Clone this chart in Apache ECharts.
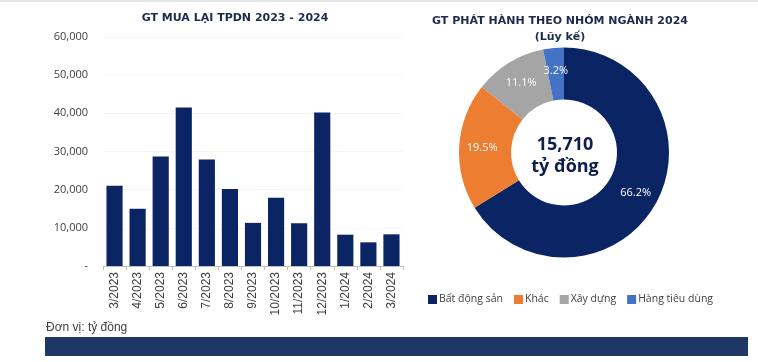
<!DOCTYPE html>
<html><head><meta charset="utf-8">
<script src="https://cdn.jsdelivr.net/npm/echarts@6/dist/echarts.min.js"></script>
<style>html,body{margin:0;padding:0;background:#fff}#c{width:758px;height:362px}</style>
</head><body><div id="c"></div>
<script>
const months = ['3/2023','4/2023','5/2023','6/2023','7/2023','8/2023','9/2023','10/2023','11/2023','12/2023','1/2024','2/2024','3/2024'];
const buyback = [21000,15000,28700,41500,27900,20200,11300,17900,11200,40200,8200,6200,8300];
const sectors = ['Bất động sản','Khác','Xây dựng','Hàng tiêu dùng'];
const sectorShare = [66.2,19.5,11.1,3.2];
const sectorColors = ['#0b2463','#ed7d31','#a5a5a5','#4472c4'];

const navy = '#0b2463';
const chart = echarts.init(document.getElementById('c'));
chart.setOption({
  animation:false,
  textStyle:{fontFamily:'"Open Sans", sans-serif'},
  title:[
    {text:'GT MUA LẠI TPDN 2023 - 2024', left:230, top:8, textAlign:'center',
     textStyle:{fontSize:11, fontWeight:'bold', color:'#1a2b4c', fontFamily:'"DejaVu Sans", sans-serif'}},
    {text:'GT PHÁT HÀNH THEO NHÓM NGÀNH 2024\n(Lũy kế)', left:555, top:8, textAlign:'center',
     textStyle:{fontSize:11, fontWeight:'bold', color:'#1a2b4c', lineHeight:16, fontFamily:'"DejaVu Sans", sans-serif'}}
  ],
  grid:{left:103, right:355, top:37, bottom:96},
  xAxis:{type:'category', data:months,
    axisLine:{lineStyle:{color:'#bfbfbf'}},
    axisTick:{show:true, alignWithLabel:false, length:4, lineStyle:{color:'#bfbfbf'}},
    axisLabel:{rotate:90, interval:0, color:'#404040', fontSize:12, margin:6, fontFamily:'"Liberation Sans", sans-serif'}},
  yAxis:{type:'value', min:0, max:60000, interval:10000,
    axisLine:{show:false}, axisTick:{show:false},
    splitLine:{lineStyle:{color:'#f5f5f5'}},
    axisLabel:{color:'#404040', fontSize:11, margin:15,
      formatter:v=> v===0 ? '-' : v.toLocaleString('en-US')}},
  legend:{data:sectors, left:423, top:289, itemWidth:9, itemHeight:9, itemGap:11,
    icon:'rect', textStyle:{color:'#404040', fontSize:10.5, padding:[0,0,0,-3]}},
  series:[
    {type:'bar', data:buyback, barCategoryGap:'30%', itemStyle:{color:navy}},
    {type:'pie', center:[564,152.5], radius:[53,105], startAngle:90, clockwise:true,
     data:sectors.map((n,i)=>({name:n, value:sectorShare[i], itemStyle:{color:sectorColors[i]}})),
     label:{show:true, position:'inside', formatter:p=>p.value.toFixed(1)+'%', color:'#ffffff', fontSize:11},
     labelLine:{show:false}, itemStyle:{borderWidth:0}}
  ],
  graphic:[
    {type:'text', style:{text:'15,710', x:565, y:145, textAlign:'center', textVerticalAlign:'middle', fill:'#0e1f4d', font:'bold 18px "Open Sans", sans-serif'}},
    {type:'text', style:{text:'tỷ đồng', x:565, y:167, textAlign:'center', textVerticalAlign:'middle', fill:'#0e1f4d', font:'bold 18px "Open Sans", sans-serif'}},
    {type:'text', style:{text:'Đơn vị: tỷ đồng', x:46, y:328, textVerticalAlign:'middle', fill:'#404040', font:'12px "Liberation Sans", sans-serif'}},
    {type:'rect', shape:{x:45, y:337, width:703, height:19}, style:{fill:'#1f3764'}},
    {type:'rect', shape:{x:0, y:0, width:758, height:2}, style:{fill:'#e6e6e6'}}
  ]
});
</script></body></html>
